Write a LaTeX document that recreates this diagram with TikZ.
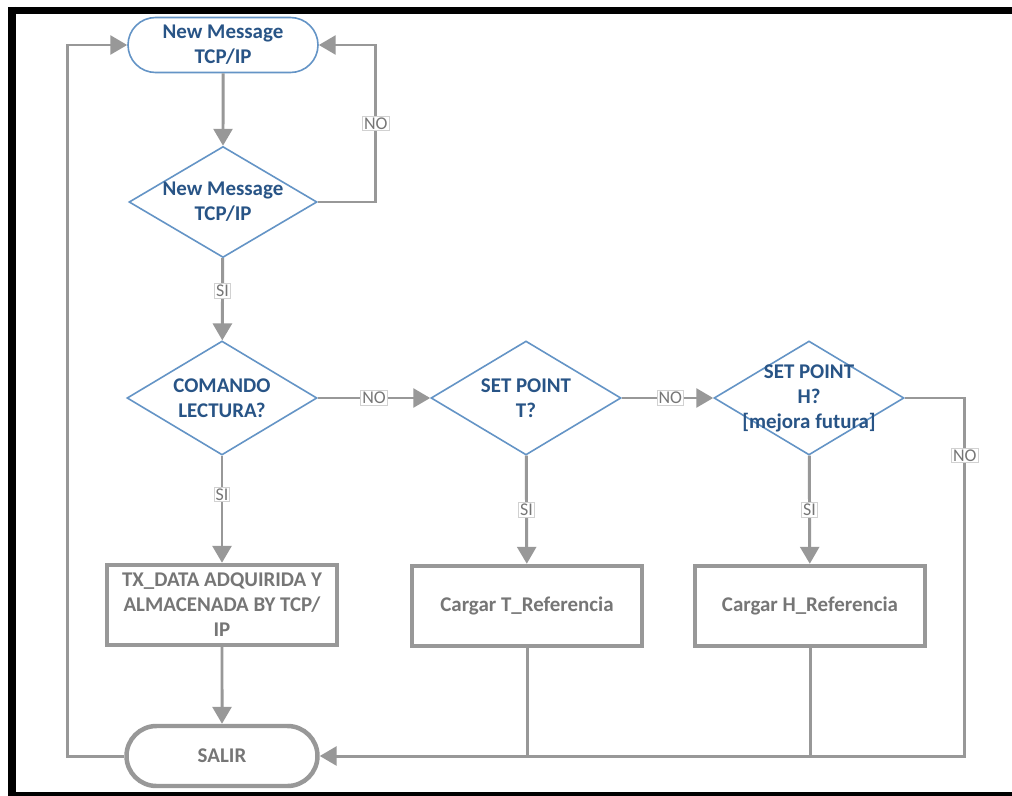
\documentclass[tikz,border=0pt]{standalone}
\usepackage{fontspec}
\setmainfont{Carlito}
\usetikzlibrary{shapes.geometric,shapes.misc,arrows.meta}
\definecolor{flowblue}{RGB}{100,148,198}
\definecolor{flowbluetext}{RGB}{40,84,134}
\definecolor{flowgray}{RGB}{152,152,152}
\definecolor{flowgraytext}{RGB}{118,118,118}
\begin{document}
\begin{tikzpicture}[x=1bp,y=-1bp] % coordenadas en px, y hacia abajo
\tikzstyle{bigtext} = [font=\fontsize{21}{25}\selectfont\bfseries, align=center] % texto de las figuras
\tikzstyle{startterm} = [rounded rectangle, draw=flowblue, line width=1.6pt, fill=white, text=flowbluetext, bigtext, minimum width=190bp, minimum height=55bp, inner sep=0pt] % inicio
\tikzstyle{endterm} = [rounded rectangle, draw=flowgray, line width=4.5pt, fill=white, text=flowgraytext, bigtext, minimum width=191bp, minimum height=60bp, inner sep=0pt] % fin
\tikzstyle{decision} = [diamond, draw=flowblue, line width=1.6pt, fill=white, minimum width=190bp, minimum height=114bp, inner sep=0pt] % rombo
\tikzstyle{dectext} = [text=flowbluetext, bigtext, inner sep=0pt] % texto del rombo
\tikzstyle{process} = [rectangle, draw=flowgray, line width=4.5pt, fill=white, text=flowgraytext, bigtext, minimum width=230bp, minimum height=80bp, inner sep=2pt] % caja
\tikzstyle{flow} = [draw=flowgray, line width=3pt, -{Triangle[length=17pt,width=19pt]}] % flecha
\tikzstyle{joinline} = [draw=flowgray, line width=3pt] % linea sin punta
\tikzstyle{answer} = [draw=flowgray!45, fill=white, line width=0.8pt, text=flowgraytext, font=\fontsize{18}{18}\selectfont, inner sep=1.5pt] % SI / NO

\useasboundingbox (0,0) rectangle (1012,796);
\fill[white] (-10,-10) rectangle (1030,810); % fondo

% marco
\draw[line width=8bp] (12,7) -- (12,800);
\draw[line width=7bp] (8,10.5) -- (1030,10.5);
\draw[line width=5bp] (8,794.5) -- (1030,794.5);

% figuras
\node[startterm] (start) at (223,45) {New Message\\TCP/IP};
\node[decision, minimum width=188bp, minimum height=111bp, label={[dectext]center:{New Message\\TCP/IP}}] (newmsg) at (223,202) {};
\node[decision, label={[dectext]center:{COMANDO\\LECTURA?}}] (lectura) at (222,398) {};
\node[decision, label={[dectext]center:{SET POINT\\T?}}] (setT) at (526,398) {};
\node[decision, label={[dectext]center:{SET POINT\\H?\\{[}mejora futura{]}}}] (setH) at (809,398) {};
\node[process] (txdata) at (222,605) {TX\_DATA ADQUIRIDA Y\\ALMACENADA BY TCP/\\IP};
\node[process] (cargaT) at (527,606) {Cargar T\_Referencia};
\node[process] (cargaH) at (810,606) {Cargar H\_Referencia};
\node[endterm] (salir) at (222,756) {SALIR};

% conectores
\draw[flow] (start) -- (newmsg);
\draw[flow] (newmsg.east) -- ++(58,0) |- node[answer, pos=0.25] (no1) {NO} (start.east);
\draw[flow] (newmsg) -- node[answer, pos=0.4] (si1) {SI} (lectura);
\draw[flow] (lectura) -- node[answer, pos=0.5] (no2) {NO} (setT);
\draw[flow] (setT) -- node[answer, pos=0.53] (no3) {NO} (setH);
\draw[flow] (setH.east) -- ++(60,0) |- node[answer, pos=0.08] (no4) {NO} (salir.east);
\draw[flow] (lectura) -- node[answer, pos=0.36] (si2) {SI} (txdata);
\draw[flow] (setT) -- node[answer, pos=0.5] (si3) {SI} (cargaT);
\draw[flow] (setH) -- node[answer, pos=0.5] (si4) {SI} (cargaH);
\draw[flow] (txdata) -- (salir);
\draw[joinline] (cargaT.south) -- (cargaT.south |- salir);
\draw[joinline] (cargaH.south) -- (cargaH.south |- salir);
\draw[flow] (salir.west) -- ++(-57,0) |- (start.west);
\end{tikzpicture}
\end{document}
